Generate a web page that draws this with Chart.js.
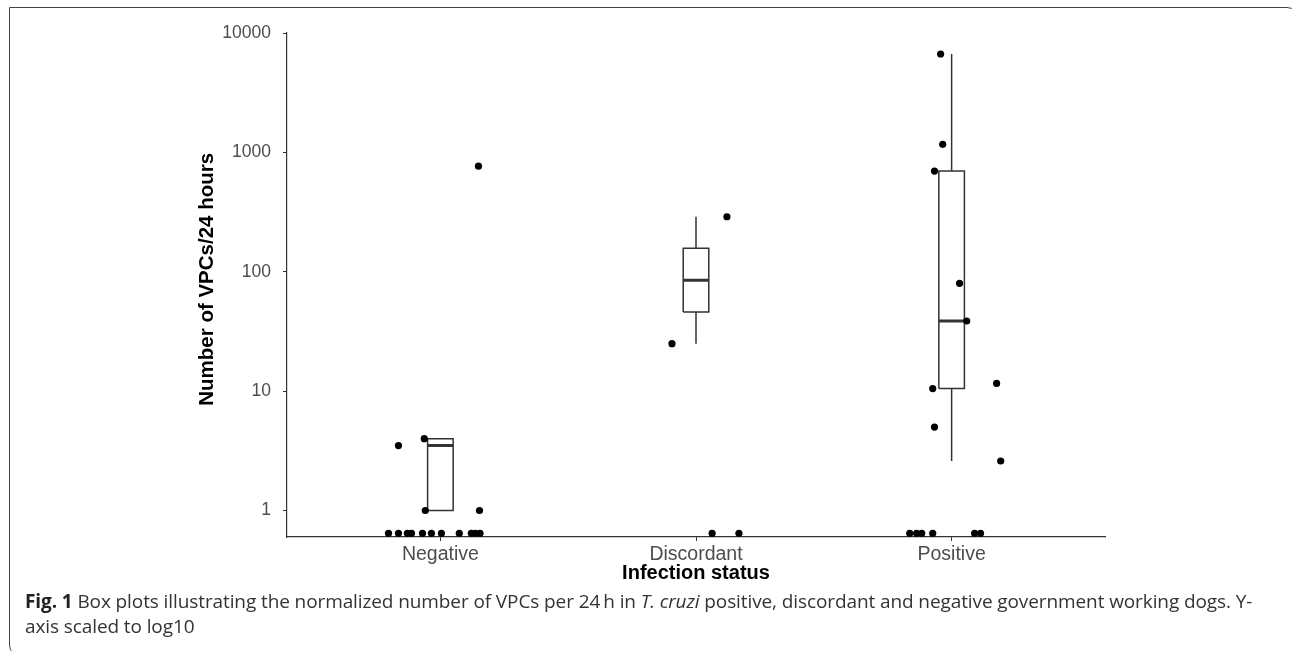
<!DOCTYPE html>
<html>
<head>
<meta charset="utf-8">
<script src="https://cdn.jsdelivr.net/npm/chart.js@4"></script>
<style>
  html, body { margin: 0; padding: 0; background: #fff; }
  #page { position: relative; width: 1292px; height: 651px; overflow: hidden; }
  #frame {
    position: absolute; left: 9px; top: 7px; width: 1290px; height: 650px;
    border: 1.5px solid #444; border-radius: 0 12px 0 12px; box-sizing: border-box;
  }
  #wrap { position: absolute; left: 0; top: 0; width: 1292px; height: 590px; }
  #caption {
    position: absolute; left: 25px; top: 589px; width: 1265px;
    font-family: "Open Sans", sans-serif; font-size: 19px; line-height: 25px; color: #333;
    white-space: nowrap; letter-spacing: -0.1px;
  }
  #caption b { color: #222; }
</style>
</head>
<body>
<div id="page">
  <div id="frame"></div>
  <div id="wrap"><canvas id="chart" width="1292" height="590"></canvas></div>
  <div id="caption"><b>Fig. 1</b> Box plots illustrating the normalized number of VPCs per 24&#8201;h in <i>T. cruzi</i> positive, discordant and negative government working dogs. Y-<br>axis scaled to log10</div>
</div>
<script>
// Categories and axis ticks
const groups = ['Negative', 'Discordant', 'Positive'];
const yTicks = [1, 10, 100, 1000, 10000];
const yMin = 0.644; // floor of the log axis, zeros sit here
const yMax = 10000;

// Box plot statistics (computed on log10 scale)
const whiskerLow  = [1, 25, 2.6];
const q1          = [1, 46, 10.5];
const median      = [3.5, 85, 38.7];
const q3          = [4, 157, 697];
const whiskerHigh = [4, 289, 6668];

// Jittered observations (0 = no VPCs)
const negativeValues = [3.5, 4, 1, 1, 766, 0, 0, 0, 0, 0, 0, 0, 0, 0, 0, 0];
const negativeJitter = [-0.164, -0.063, -0.059, 0.153, 0.149, -0.203, -0.164, -0.129, -0.113, -0.070, -0.035, 0.004, 0.074, 0.121, 0.137, 0.155];
const discordantValues = [289, 25, 0, 0];
const discordantJitter = [0.121, -0.094, 0.063, 0.168];
const positiveValues = [6668, 1167, 697, 80, 38.7, 10.5, 11.6, 5, 2.6, 0, 0, 0, 0, 0, 0];
const positiveJitter = [-0.043, -0.035, -0.067, 0.031, 0.059, -0.074, 0.176, -0.067, 0.192, -0.164, -0.137, -0.117, -0.074, 0.090, 0.113];

const boxHalf = 0.05;

function toPoints(values, jitter, pos) {
    return values.map((v, i) => ({ x: pos + jitter[i], y: v === 0 ? yMin : v }));
}

const points = [
    ...toPoints(negativeValues, negativeJitter, 1),
    ...toPoints(discordantValues, discordantJitter, 2),
    ...toPoints(positiveValues, positiveJitter, 3),
];

// Build outline, whisker and median polylines (null breaks the line)
const boxLines = [];
const whiskerLines = [];
const medianLines = [];
groups.forEach((g, i) => {
    const c = i + 1;
    boxLines.push(
        { x: c - boxHalf, y: q1[i] }, { x: c + boxHalf, y: q1[i] },
        { x: c + boxHalf, y: q3[i] }, { x: c - boxHalf, y: q3[i] },
        { x: c - boxHalf, y: q1[i] }, { x: c, y: null }
    );
    whiskerLines.push(
        { x: c, y: whiskerLow[i] }, { x: c, y: q1[i] }, { x: c, y: null },
        { x: c, y: q3[i] }, { x: c, y: whiskerHigh[i] }, { x: c, y: null }
    );
    medianLines.push({ x: c - boxHalf, y: median[i] }, { x: c + boxHalf, y: median[i] }, { x: c, y: null });
});

const lineStyle = {
    showLine: true, pointRadius: 0, borderColor: '#333', backgroundColor: 'transparent',
    spanGaps: false, borderJoinStyle: 'miter', borderCapStyle: 'butt', tension: 0
};

new Chart(document.getElementById('chart'), {
    type: 'scatter',
    data: {
        datasets: [
            { data: points, pointRadius: 3.6, pointBorderWidth: 0, backgroundColor: '#000', clip: false },
            { data: medianLines, borderWidth: 3, ...lineStyle },
            { data: boxLines, borderWidth: 1.5, ...lineStyle },
            { data: whiskerLines, borderWidth: 1.5, ...lineStyle },
        ]
    },
    options: {
        responsive: false,
        devicePixelRatio: 1,
        animation: false,
        layout: { padding: { left: 190, top: 33, right: 187, bottom: 0 } },
        plugins: { legend: { display: false }, tooltip: { enabled: false } },
        scales: {
            x: {
                type: 'linear', min: 0.4, max: 3.6,
                afterBuildTicks: s => { s.ticks = groups.map((g, i) => ({ value: i + 1 })); },
                afterFit: s => { s.height = 53; },
                ticks: {
                    callback: v => groups[v - 1],
                    color: '#4d4d4d', padding: 2,
                    font: { family: 'Liberation Sans, Arial, sans-serif', size: 19.5 },
                    maxRotation: 0, autoSkip: false
                },
                grid: { display: true, drawOnChartArea: false, drawTicks: true, tickLength: 4, color: '#333' },
                border: { display: true, color: '#333', width: 1.2 },
                title: {
                    display: true, text: 'Infection status', color: '#000',
                    font: { family: 'Liberation Sans, Arial, sans-serif', size: 20, weight: 'bold' },
                    padding: { top: 0, bottom: 5 }
                }
            },
            y: {
                type: 'logarithmic', min: yMin, max: yMax,
                afterBuildTicks: s => { s.ticks = yTicks.map(v => ({ value: v })); },
                afterFit: s => { s.width = 97; },
                ticks: {
                    callback: v => String(v),
                    color: '#4d4d4d', padding: 12,
                    font: { family: 'Liberation Sans, Arial, sans-serif', size: 17.5 }
                },
                grid: { display: true, drawOnChartArea: false, drawTicks: true, tickLength: 4, color: '#333' },
                border: { display: true, color: '#333', width: 1.2 },
                title: {
                    display: true, text: '\u00a0\u00a0Number of VPCs/24 hours', color: '#000',
                    font: { family: 'Liberation Sans, Arial, sans-serif', size: 20.5, weight: 'bold' },
                    padding: { top: 5, bottom: 0 }
                }
            }
        }
    }
});
</script>
</body>
</html>
